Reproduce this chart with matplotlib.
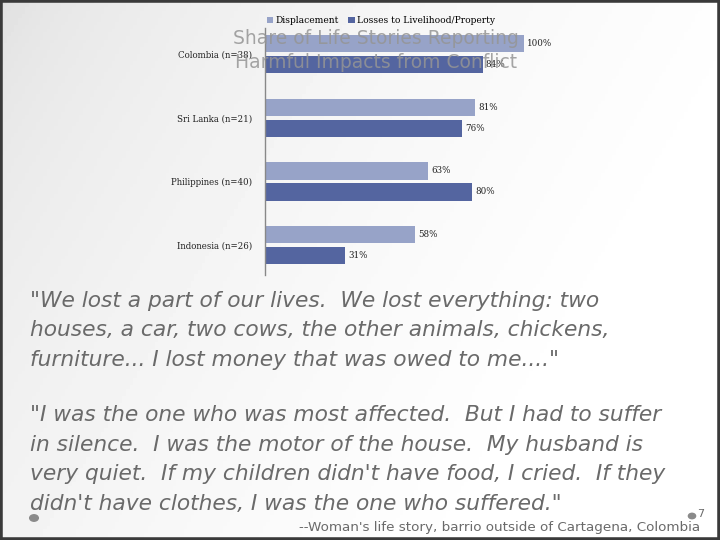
import numpy as np
import matplotlib.pyplot as plt
from matplotlib.patches import Rectangle, Circle

# data
countries = ["Colombia (n=38)", "Sri Lanka (n=21)", "Philippines (n=40)", "Indonesia (n=26)"]
displacement = [100, 81, 63, 58]
losses = [84, 76, 80, 31]
series_names = ["Displacement", "Losses to Livelihood/Property"]

quote1 = ["\"We lost a part of our lives.  We lost everything: two",
          "houses, a car, two cows, the other animals, chickens,",
          "furniture... I lost money that was owed to me....\""]
quote2 = ["\"I was the one who was most affected.  But I had to suffer",
          "in silence.  I was the motor of the house.  My husband is",
          "very quiet.  If my children didn't have food, I cried.  If they",
          "didn't have clothes, I was the one who suffered.\""]
source = "--Woman's life story, barrio outside of Cartagena, Colombia"

light = "#97a3c8"
dark = "#5465a0"

W, H = 720, 540
fig = plt.figure(figsize=(7.2, 5.4), dpi=100)

# slide background gradient
bg = fig.add_axes([0, 0, 1, 1])
xx, yy = np.meshgrid(np.linspace(0, 1, 200), np.linspace(0, 1, 150))
g = 0.87 + 0.13 * np.sqrt(np.clip(0.9 * xx + 0.4 * yy, 0, 1))
bg.imshow(g, cmap="gray", vmin=0, vmax=1, extent=[0, 1, 0, 1], aspect="auto", origin="upper")
bg.set_xlim(0, 1)
bg.set_ylim(0, 1)
bg.axis("off")

def fx(px):
    return px / W

def fy(py):
    return 1 - py / H

# bar chart
ax = fig.add_axes([fx(265), fy(275), fx(524) - fx(265), fy(28) - fy(275)])
ax.patch.set_alpha(0)
y = np.arange(len(countries))
h = 0.27
off = 0.165
b1 = ax.barh(y - off, displacement, height=h, color=light, label=series_names[0])
b2 = ax.barh(y + off, losses, height=h, color=dark, label=series_names[1])
for bars, vals in ((b1, displacement), (b2, losses)):
    for rect, v in zip(bars, vals):
        ax.text(v + 1.2, rect.get_y() + rect.get_height() / 2, f"{v}%",
                va="center", ha="left", fontsize=6.3, family="DejaVu Serif", color="#222222")
ax.set_xlim(0, 100)
ax.set_ylim(3.47, -0.41)
ax.set_yticks(y)
ax.set_yticklabels(countries, family="DejaVu Serif", fontsize=6.2, color="#222222")
ax.tick_params(axis="y", length=0, pad=9)
ax.set_xticks([])
for s in ("top", "right", "bottom"):
    ax.spines[s].set_visible(False)
ax.spines["left"].set_color("#888888")
ax.spines["left"].set_linewidth(1.0)

leg = ax.legend(loc="lower left", bbox_to_anchor=(fx(262), fy(30)), bbox_transform=fig.transFigure,
                ncol=2, frameon=False, handlelength=0.7, handleheight=0.7, handletextpad=0.3,
                columnspacing=1.0, borderpad=0,
                prop={"family": "DejaVu Serif", "size": 6.6})

# title overlapping the chart
tstyle = dict(ha="center", va="center", fontsize=13.5, family="DejaVu Sans",
              color="#959595", alpha=0.85)
fig.text(fx(376), fy(38), "Share of Life Stories Reporting", **tstyle)
fig.text(fx(376), fy(62), "Harmful Impacts from Conflict", **tstyle)

# quotes
qstyle = dict(ha="left", va="center", fontsize=15.7, family="DejaVu Sans",
              style="italic", color="#6a6a6a")
for i, line in enumerate(quote1):
    fig.text(fx(30), fy(301 + 29.5 * i), line, **qstyle)
for i, line in enumerate(quote2):
    fig.text(fx(30), fy(415 + 29.7 * i), line, **qstyle)

fig.text(fx(700), fy(527), source, ha="right", va="center", fontsize=9.7,
         family="DejaVu Sans", color="#6a6a6a")
fig.text(fx(697), fy(514), "7", ha="left", va="center", fontsize=8, color="#6a6a6a")

bg.add_patch(Circle((fx(692), fy(516)), 0.005, transform=bg.transAxes, color="#8a8a8a"))
bg.add_patch(Circle((fx(34), fy(518)), 0.006, transform=bg.transAxes, color="#8a8a8a"))

# slide frame
bg.add_patch(Rectangle((0, 0), 1, 1, transform=bg.transAxes, fill=False,
                       edgecolor="#3a3a3a", linewidth=4, clip_on=False))

fig.savefig("out.png", dpi=100)
